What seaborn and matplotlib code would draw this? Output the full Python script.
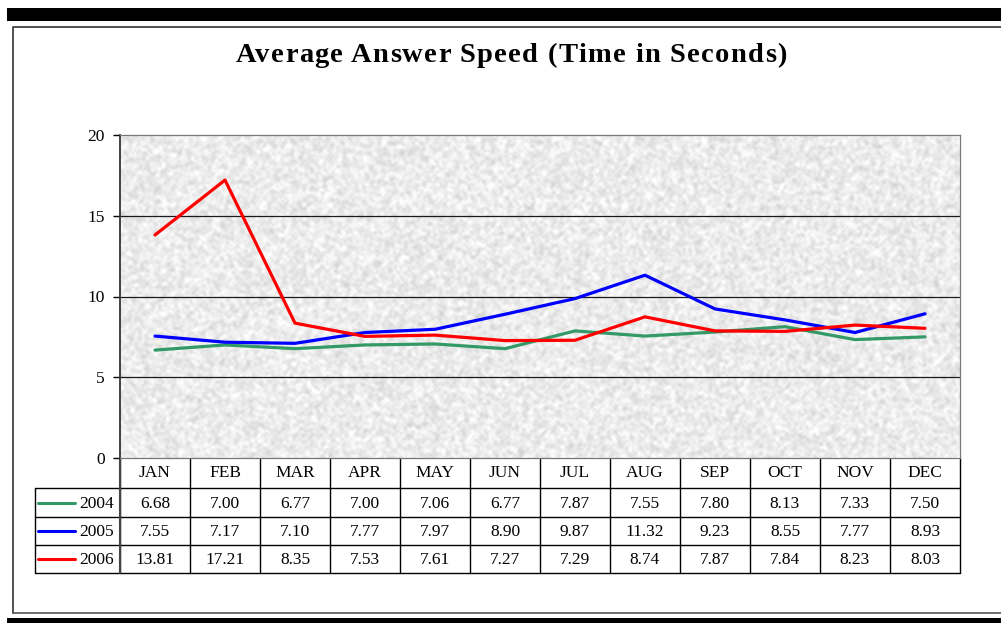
import numpy as np
import pandas as pd
import matplotlib
matplotlib.use("Agg")
import matplotlib.pyplot as plt
import seaborn as sns

months = ["JAN", "FEB", "MAR", "APR", "MAY", "JUN", "JUL", "AUG", "SEP", "OCT", "NOV", "DEC"]
years = ["2004", "2005", "2006"]
speed_2004 = [6.68, 7.00, 6.77, 7.00, 7.06, 6.77, 7.87, 7.55, 7.80, 8.13, 7.33, 7.50]
speed_2005 = [7.55, 7.17, 7.10, 7.77, 7.97, 8.90, 9.87, 11.32, 9.23, 8.55, 7.77, 8.93]
speed_2006 = [13.81, 17.21, 8.35, 7.53, 7.61, 7.27, 7.29, 8.74, 7.87, 7.84, 8.23, 8.03]
colors = {"2004": "#339966", "2005": "#0000FF", "2006": "#FF0000"}
title = "Average Answer Speed (Time in Seconds)"

W, H = 1001, 623
sns.set_style("white")
plt.rcParams["font.family"] = ["Liberation Serif", "DejaVu Serif"]
plt.rcParams["text.color"] = "black"
plt.rcParams["ytick.color"] = "black"

fig = plt.figure(figsize=(W / 100, H / 100), dpi=100)

# overlay axes in pixel coords for frame and table
ov = fig.add_axes([0, 0, 1, 1])
ov.set_xlim(0, W)
ov.set_ylim(H, 0)
ov.axis("off")

ov.fill_between([7, W], 8, 21, color="black", lw=0)
ov.fill_between([7, W], 618, 623, color="black", lw=0)
ov.plot([13, 13, W], [613, 27, 27], color="#333333", lw=1.2)
ov.plot([13, W], [613, 613], color="#555555", lw=1.2)

# title with letter spacing, one glyph at a time
renderer = fig.canvas.get_renderer()
tkw = dict(fontsize=20.5, fontweight="bold", va="center", ha="left")


def text_w(s):
    t = ov.text(0, 0, s, **tkw)
    w = t.get_window_extent(renderer).width
    t.remove()
    return w


spacing = 1.3
full = text_w(title) + spacing * (len(title) - 1)
start = 511 - full / 2
for i, ch in enumerate(title):
    if ch == " ":
        continue
    xi = start + text_w(title[:i + 1]) - text_w(ch) + spacing * i
    ov.text(xi, 56, ch, **tkw)

# table
x0, cw = 120, 70
xr = x0 + cw * 12
rows_y = [458, 488, 517, 545, 573]
fs = 12.5
lc = "black"
for y in rows_y[1:]:
    ov.plot([35, xr], [y, y], color=lc, lw=1)
ov.plot([35, 35], [488, 573], color=lc, lw=1)
for i in range(13):
    ov.plot([x0 + i * cw] * 2, [458, 573], color=lc, lw=1)
ov.plot([x0, x0], [458, 573], color="#444444", lw=1.5)

for i, m in enumerate(months):
    ov.text(x0 + cw * (i + 0.5), 473, m, ha="center", va="center", fontsize=fs)

series = [speed_2004, speed_2005, speed_2006]
for r, (yr, vals) in enumerate(zip(years, series)):
    yc = (rows_y[r + 1] + rows_y[r + 2]) / 2
    ov.plot([38, 75], [yc, yc], color=colors[yr], lw=2.2, solid_capstyle="round")
    ov.text(97, yc + 1, yr, ha="center", va="center", fontsize=fs)
    for i, v in enumerate(vals):
        ov.text(x0 + cw * (i + 0.5), yc + 1, f"{v:.2f}", ha="center", va="center", fontsize=fs)

# plot area
ax = fig.add_axes([120 / W, (H - 458) / H, 840 / W, 323 / H])
ax.set_zorder(2)

rng = np.random.default_rng(3)
noise = rng.random((200, 520))
k = np.ones((3, 3)) / 9
pad = np.pad(noise, 1, mode="wrap")
smooth = sum(pad[i:i + 200, j:j + 520] * k[i, j] for i in range(3) for j in range(3))
tex = 0.925 + (smooth - smooth.mean()) * 0.24 + (noise - 0.5) * 0.06
tex = np.clip(tex, 0.80, 1.0)
ax.imshow(tex, cmap="gray", vmin=0, vmax=1, extent=[-0.5, 11.5, 0, 20],
          aspect="auto", zorder=0, interpolation="bilinear")

df = pd.DataFrame({
    "month": list(range(12)) * 3,
    "speed": speed_2004 + speed_2005 + speed_2006,
    "year": [y for y in years for _ in range(12)],
})
sns.lineplot(data=df, x="month", y="speed", hue="year", palette=colors, lw=2.3,
             ax=ax, legend=False, zorder=3)

for g in [5, 10, 15]:
    ax.axhline(g, color="#1a1a1a", lw=0.9, zorder=1)

ax.set_xlim(-0.5, 11.5)
ax.set_ylim(0, 20)
ax.set_yticks([0, 5, 10, 15, 20])
ax.set_yticklabels(["0", "5", "10", "15", "20"], fontsize=fs)
ax.set_xticks([])
ax.set_xlabel("")
ax.set_ylabel("")
ax.tick_params(axis="y", direction="out", length=5, width=1, color="black", pad=6, left=True)
for s in ["top", "right", "bottom"]:
    ax.spines[s].set_color("#777777")
    ax.spines[s].set_linewidth(0.9)
ax.spines["left"].set_color("#333333")
ax.spines["left"].set_linewidth(1.3)

fig.savefig("out.png", dpi=100)
